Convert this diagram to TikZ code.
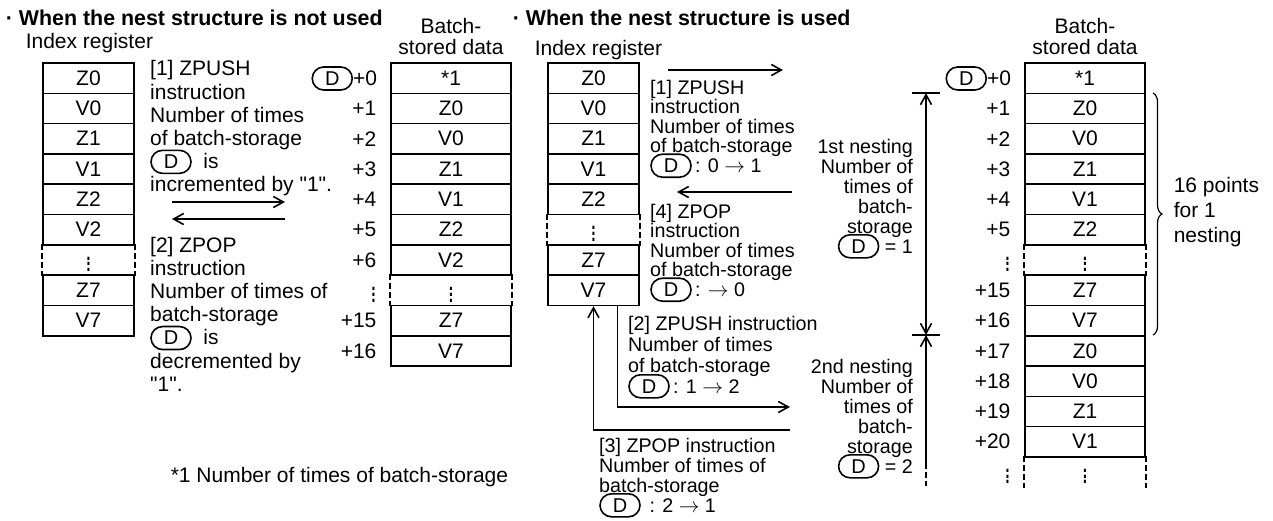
\documentclass[tikz,border=0pt]{standalone}
\usepackage{fontspec}
\usepackage{graphicx}
\setmainfont{Liberation Sans}
\usetikzlibrary{positioning,arrows.meta,decorations.pathreplacing}
\tikzset{dbox/.style={draw, line width=1.6pt, rounded corners=11.5pt, minimum width=40pt, minimum height=23pt, inner sep=0pt, font=\fontsize{20}{20}\selectfont}}
\newcommand{\dreg}{\smash{\tikz[baseline=(dd.base)]\node[dbox] (dd) {D};}}
\newcommand{\vd}{\scalebox{1}[1.45]{$\vdots$}}
\newcommand{\q}{\textquotedbl}
\begin{document}
\begin{tikzpicture}[x=1pt, y=-1pt, line width=1.6pt,
    >={Straight Barb[length=10pt,width=11pt]},
    cell/.style={draw, rectangle, inner sep=0pt, minimum height=30.3pt, font=\fontsize{21}{23}\selectfont},
    dotcell/.style={rectangle, inner sep=0pt, minimum height=30.3pt, font=\fontsize{21}{23}\selectfont},
    off/.style={inner sep=0pt, font=\fontsize{21}{23}\selectfont},
    label/.style={inner sep=0pt, anchor=base west, font=\fontsize{21}{23}\selectfont},
    txt/.style={inner sep=0pt, align=left, anchor=north west, font=\fontsize{21}{23.2}\selectfont},
    small/.style={inner sep=0pt, align=left, anchor=north west, font=\fontsize{19.7}{19.6}\selectfont},
    gap/.style={dash pattern=on 6pt off 3pt}]
\useasboundingbox (0,0) rectangle (1273,520);

% titles
\node[label, font=\bfseries\fontsize{21.4}{23}\selectfont] (ttl1) at (5,25) {· When the nest structure is not used};
\node[label, font=\bfseries\fontsize{21.4}{23}\selectfont] (ttl2) at (512,25) {· When the nest structure is used};
\node[label] (ir1) at (25,48) {Index register};
\node[label] (ir2) at (534,55) {Index register};
\node[txt, align=center, anchor=north] (bs1) at (451,17.7) {Batch-\\[-2pt]stored data};
\node[txt, align=center, anchor=north] (bs2) at (1085,17.7) {Batch-\\[-2pt]stored data};

% left: index register and stored data
\foreach \t/\s [count=\i from 0] in {Z0/cell,V0/cell,Z1/cell,V1/cell,Z2/cell,V2/cell,\vd/dotcell,Z7/cell,V7/cell}
    \node[\s, minimum width=91pt] (li\i) at (88.5,{78.15+30.3*\i}) {\t};
\draw[gap] (li6.north west) -- (li6.south west) (li6.north east) -- (li6.south east);

\foreach \t/\s [count=\i from 0] in {*1/cell,Z0/cell,V0/cell,Z1/cell,V1/cell,Z2/cell,V2/cell,\vd/dotcell,Z7/cell,V7/cell}
    \node[\s, minimum width=120pt] (ld\i) at (451,{78.15+30.3*\i}) {\t};
\draw[gap] (ld7.north west) -- (ld7.south west) (ld7.north east) -- (ld7.south east);

\foreach \o [count=\i from 0] in {{\dreg+0},+1,+2,+3,+4,+5,+6,\vd,+15,+16}
    \node[off, left=13pt of ld\i] (lo\i) {\o};

\node[txt] (lt1) at (150,60.5) {[1] ZPUSH\\instruction\\Number of times\\of batch-storage\\\dreg\ \ is\\incremented by \q1\q.};
\node[txt] (lt2) at (150,236.7) {[2] ZPOP\\instruction\\Number of times of\\batch-storage\\\dreg\ \ is\\decremented by\\\q1\q.};
\coordinate (a1s) at (172,202); \coordinate (a1e) at (285,202);
\coordinate (a2s) at (285,219); \coordinate (a2e) at (172,219);
\draw[->] (a1s) -- (a1e);
\draw[->] (a2s) -- (a2e);

\node[label] (note) at (170,482) {*1 Number of times of batch-storage};

% right: index register and stored data
\foreach \t/\s [count=\i from 0] in {Z0/cell,V0/cell,Z1/cell,V1/cell,Z2/cell,\vd/dotcell,Z7/cell,V7/cell}
    \node[\s, minimum width=91pt] (ri\i) at (593.5,{78.15+30.3*\i}) {\t};
\draw[gap] (ri5.north west) -- (ri5.south west) (ri5.north east) -- (ri5.south east);

\foreach \t/\s [count=\i from 0] in {*1/cell,Z0/cell,V0/cell,Z1/cell,V1/cell,Z2/cell,\vd/dotcell,Z7/cell,V7/cell,Z0/cell,V0/cell,Z1/cell,V1/cell,\vd/dotcell}
    \node[\s, minimum width=120pt] (rd\i) at (1085,{78.15+30.3*\i}) {\t};
\draw[gap] (rd6.north west) -- (rd6.south west) (rd6.north east) -- (rd6.south east);
\draw[gap] (rd13.north west) -- (rd13.south west) (rd13.north east) -- (rd13.south east);

\foreach \o [count=\i from 0] in {{\dreg+0},+1,+2,+3,+4,+5,\vd,+15,+16,+17,+18,+19,+20,\vd}
    \node[off, left=13pt of rd\i] (ro\i) {\o};

\node[small] (rt1) at (650,79.7) {[1] ZPUSH\\instruction\\Number of times\\of batch-storage\\\dreg\,: 0 $\rightarrow$ 1};
\node[small] (rt4) at (650,203.7) {[4] ZPOP\\instruction\\Number of times\\of batch-storage\\\dreg\,: $\rightarrow$ 0};
\node[small, font=\fontsize{19.7}{21}\selectfont] (rt2) at (628,315.7) {[2] ZPUSH instruction\\Number of times\\of batch-storage\\\dreg\,: 1 $\rightarrow$ 2};
\node[small, font=\fontsize{19.7}{20}\selectfont] (rt3) at (599,437.7) {[3] ZPOP instruction\\Number of times of\\batch-storage\\\dreg\ \,: 2 $\rightarrow$ 1};

\coordinate (b1s) at (668,70); \coordinate (b1e) at (783,70);
\coordinate (b4s) at (792,192); \coordinate (b4e) at (677,192);
\coordinate (b2s) at ([xshift=24pt]ri7.south); \coordinate (b2c) at (617.5,407); \coordinate (b2e) at (790,407);
\coordinate (b3s) at (790,430); \coordinate (b3c) at (593.5,430);
\draw[->] (b1s) -- (b1e);
\draw[->] (b4s) -- (b4e);
\draw[->] (b2s) -- (b2c) -- (b2e);
\draw[->] (b3s) -- (b3c) -- (ri7.south);

% nesting ranges
\node[small, align=right, anchor=north east, font=\fontsize{19.7}{20}\selectfont] (nt1) at (913,138.7) {1st nesting\\Number of\\times of\\batch-\\storage\\\dreg\ = 1};
\node[small, align=right, anchor=north east, font=\fontsize{19.7}{20}\selectfont] (nt2) at (913,358.7) {2nd nesting\\Number of\\times of\\batch-\\storage\\\dreg\ = 2};
\coordinate (n1t) at (926,93); \coordinate (nm) at (926,335);
\coordinate (n2s) at (926,463); \coordinate (n2e) at (926,486);
\draw[<->] (n1t) -- (nm);
\draw[<-] (nm) -- (n2s);
\draw[gap] (n2s) -- (n2e);
\draw ([xshift=-14pt]n1t) -- ([xshift=14pt]n1t);
\draw ([xshift=-14pt]nm) -- ([xshift=14pt]nm);

% one nesting = 16 points
\coordinate (bt) at (1153,93); \coordinate (bb) at (1153,335);
\draw[line width=1.2pt, decorate, decoration={brace, amplitude=9pt}] (bt) -- (bb);
\node[txt, font=\fontsize{21}{25}\selectfont] (pts) at (1173,176.8) {16 points\\for 1\\nesting};
\end{tikzpicture}
\end{document}
